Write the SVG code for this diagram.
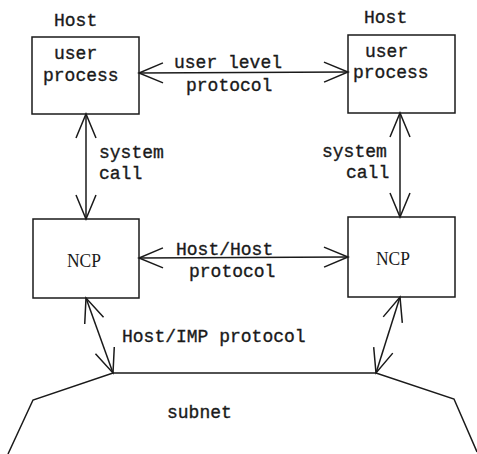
<svg xmlns="http://www.w3.org/2000/svg" width="477" height="454" viewBox="0 0 477 454">
<style>
.box{fill:none;stroke:#1a1a1a;stroke-width:1.5}
.ln{fill:none;stroke:#1a1a1a;stroke-width:1.5}
.t{font-family:"Liberation Mono","DejaVu Sans Mono",monospace;font-size:18px;fill:#1a1a1a;stroke:#1a1a1a;stroke-width:0.35}
.n{font-family:"Liberation Serif","Times New Roman",serif;font-size:19px;fill:#1a1a1a;text-anchor:middle}
</style>
<defs>
<marker id="ah" markerUnits="userSpaceOnUse" markerWidth="30" markerHeight="26" viewBox="-27 -13 30 26" refX="0" refY="0" orient="auto-start-reverse" overflow="visible">
<path d="M-24,-10 L0,0 L-24,10" fill="none" stroke="#1a1a1a" stroke-width="1.5"/>
</marker>
</defs>
<rect width="477" height="454" fill="#fff"/>
<g id="host-left">
<text class="t" x="54" y="26">Host</text>
<rect class="box" x="32" y="37" width="107" height="77"/>
<text class="t" x="54" y="59">user</text>
<text class="t" x="43" y="81">process</text>
</g>
<g id="host-right">
<text class="t" x="364" y="23">Host</text>
<rect class="box" x="348" y="35" width="107" height="78"/>
<text class="t" x="365" y="57">user</text>
<text class="t" x="353" y="78">process</text>
</g>
<g id="ncp-left">
<rect class="box" x="33" y="219" width="106" height="79"/>
<text class="n" x="84" y="267" textLength="34" lengthAdjust="spacingAndGlyphs">NCP</text>
</g>
<g id="ncp-right">
<rect class="box" x="348" y="217" width="107" height="80"/>
<text class="n" x="393" y="265" textLength="34" lengthAdjust="spacingAndGlyphs">NCP</text>
</g>
<g id="subnet">
<polyline class="ln" points="8,454 33,400 113,373 376,373 454,399 477,452"/>
<text class="t" x="167" y="418">subnet</text>
</g>
<g id="connectors">
<line class="ln" x1="139" y1="73" x2="348" y2="72" marker-start="url(#ah)" marker-end="url(#ah)"/>
<line class="ln" x1="86" y1="114" x2="86" y2="219" marker-start="url(#ah)" marker-end="url(#ah)"/>
<line class="ln" x1="400" y1="113" x2="400" y2="217" marker-start="url(#ah)" marker-end="url(#ah)"/>
<line class="ln" x1="139" y1="258" x2="348" y2="257" marker-start="url(#ah)" marker-end="url(#ah)"/>
<line class="ln" x1="86" y1="298" x2="113" y2="373" marker-start="url(#ah)" marker-end="url(#ah)"/>
<line class="ln" x1="400" y1="297" x2="376" y2="373" marker-start="url(#ah)" marker-end="url(#ah)"/>
</g>
<g id="labels">
<text class="t" x="174" y="68">user level</text>
<text class="t" x="186" y="91">protocol</text>
<text class="t" x="99" y="158">system</text>
<text class="t" x="99" y="179">call</text>
<text class="t" x="322" y="157">system</text>
<text class="t" x="346" y="178">call</text>
<text class="t" x="176" y="255">Host/Host</text>
<text class="t" x="189" y="277">protocol</text>
<text class="t" x="122" y="342">Host/IMP protocol</text>
</g>
</svg>
